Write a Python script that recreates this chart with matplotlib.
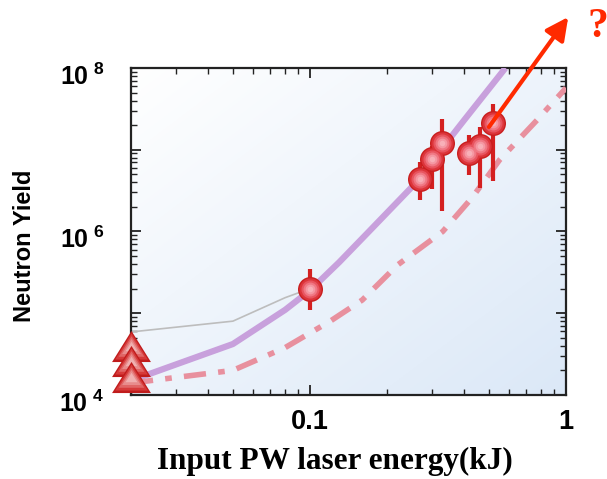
import numpy as np
import matplotlib.pyplot as plt
import matplotlib.transforms as mtransforms
from matplotlib.ticker import FixedLocator, FixedFormatter, LogLocator, NullFormatter

# simulation curves
model_x = [0.02, 0.05, 0.08, 0.1, 0.13, 0.17, 0.25, 0.4, 0.58]
model_y = [1.5e4, 4.2e4, 1.1e5, 1.9e5, 4.2e5, 1.0e6, 3.5e6, 2.3e7, 1.0e8]

low_x = [0.02, 0.05, 0.08, 0.12, 0.16, 0.22, 0.33, 0.43, 0.55, 0.77, 1.0]
low_y = [1.4e4, 2.0e4, 3.8e4, 8.0e4, 1.45e5, 3.9e5, 1.0e6, 2.6e6, 7.5e6, 2.3e7, 5.7e7]

gray_x = [0.02, 0.05, 0.08, 0.1]
gray_y = [5.9e4, 8.0e4, 1.55e5, 2.0e5]

# measured yields with error bars
exp_x = [0.1, 0.269, 0.30, 0.328, 0.418, 0.461, 0.519]
exp_y = [2.0e5, 4.4e6, 7.7e6, 1.2e7, 9.1e6, 1.1e7, 2.15e7]
exp_lo = [1.1e5, 2.4e6, 3.3e6, 1.8e6, 4.9e6, 3.4e6, 4.1e6]
exp_hi = [3.5e5, 7.0e6, 1.1e7, 2.4e7, 1.5e7, 1.9e7, 3.6e7]

# upper limits at the lowest energy
lim_x = [0.02, 0.02, 0.02]
lim_y = [4.0e4, 2.6e4, 1.65e4]

ytick_vals = [1e4, 1e5, 1e6, 1e7, 1e8]
ytick_labels = [r'$\mathregular{10^{\ 4}}$', '', r'$\mathregular{10^{\ 6}}$', '',
                r'$\mathregular{10^{\ 8}}$']
xtick_vals = [0.1, 1]
xtick_labels = ['0.1', '1']

fig = plt.figure(figsize=(6.07, 4.79), dpi=100)
ax = fig.add_axes([0.2158, 0.1754, 0.7167, 0.6827])
ax.set_xscale('log')
ax.set_yscale('log')
ax.set_xlim(0.02, 1)
ax.set_ylim(1e4, 1e8)

# white (top left) -> light blue (bottom right) background
gx, gy = np.meshgrid(np.linspace(0, 1, 200), np.linspace(0, 1, 200))
t = (gx + gy) / 2
c0 = np.array([1.0, 1.0, 1.0])
c1 = np.array([0.86, 0.91, 0.97])
grad = c0 + (c1 - c0) * t[..., None]
ax.imshow(grad, extent=[0, 1, 0, 1], transform=ax.transAxes, origin='upper',
          aspect='auto', zorder=0)

ax.plot(gray_x, gray_y, color='#bdbdbd', lw=1.2, zorder=2)
ax.plot(model_x, model_y, color='#c8a0dc', lw=4.5, solid_capstyle='butt', zorder=3)
ax.plot(low_x, low_y, color='#e8909e', lw=4, linestyle=(0, (4, 2.2, 1.2, 2.2)),
        dash_capstyle='butt', zorder=3)

err = [np.array(exp_y) - np.array(exp_lo), np.array(exp_hi) - np.array(exp_y)]
ax.errorbar(exp_x, exp_y, yerr=err, fmt='none', ecolor='#d42020', elinewidth=3,
            capsize=0, zorder=4)

# shaded spheres drawn as stacked circles
shades = ['#c81e1e', '#dc343a', '#e85560', '#f07884', '#f598a3', '#f8b0b8']
sizes = [18, 16, 13, 10, 7, 4]
for c, s in zip(shades, sizes):
    ax.plot(exp_x, exp_y, 'o', color=c, markersize=s, markeredgewidth=0, zorder=5)

# flat triangles for the lower limits
tri = [(0, 0.8), (-1, -0.8), (1, -0.8)]
tri_shades = ['#c01c1c', '#d63a3a', '#e06666', '#e88c8c', '#f0b0b0']
tri_sizes = [28, 23.5, 18.5, 13.5, 8.5]
for i in range(len(lim_y)):
    for c, s in zip(tri_shades, tri_sizes):
        ax.plot(lim_x[i], lim_y[i], marker=tri, linestyle='none', color=c,
                markersize=s, markeredgewidth=0, zorder=6, clip_on=False)

ax.annotate('', xy=(1.02, 4.2e8), xytext=(0.50, 1.9e7),
            arrowprops=dict(arrowstyle='-|>', color='#ff2a00', lw=3,
                            mutation_scale=34, shrinkA=0, shrinkB=0),
            annotation_clip=False, zorder=7)
ax.text(1.073, 1.125, '?', transform=ax.transAxes, ha='center', va='center',
        fontsize=30, fontweight='bold', family='Liberation Serif', color='#ff2a00')

ax.yaxis.set_major_locator(FixedLocator(ytick_vals))
ax.yaxis.set_major_formatter(FixedFormatter(ytick_labels))
ax.yaxis.set_minor_locator(LogLocator(base=10, subs=np.arange(2, 10)))
ax.yaxis.set_minor_formatter(NullFormatter())
ax.xaxis.set_major_locator(FixedLocator(xtick_vals))
ax.xaxis.set_major_formatter(FixedFormatter(xtick_labels))
ax.xaxis.set_minor_locator(LogLocator(base=10, subs=np.arange(2, 10)))
ax.xaxis.set_minor_formatter(NullFormatter())

ax.tick_params(which='both', direction='in', top=True, right=True, color='#222222',
               labelcolor='black')
ax.tick_params(which='major', length=7, width=1.3)
ax.tick_params(which='minor', length=4, width=1.0)
ax.tick_params(axis='y', labelsize=18, pad=19)
ax.tick_params(axis='x', labelsize=19.5, pad=10)
for lab in ax.get_xticklabels() + ax.get_yticklabels():
    lab.set_fontweight('bold')
    lab.set_family('Liberation Sans')
# y tick labels sit a little below their ticks
shift = mtransforms.ScaledTranslation(0, -6 / 100, fig.dpi_scale_trans)
for lab in ax.get_yticklabels():
    lab.set_transform(lab.get_transform() + shift)
for sp in ax.spines.values():
    sp.set_linewidth(1.6)
    sp.set_color('#222222')

ax.set_xlabel('Input PW laser energy(kJ)', fontsize=22.5, fontweight='bold',
              family='Liberation Serif', labelpad=9)
ax.xaxis.label.set_x(0.469)
ax.set_ylabel('Neutron Yield', fontsize=17, fontweight='bold',
              family='Liberation Sans')
ax.yaxis.set_label_coords(-0.219, 0.457)

fig.savefig('out.png', dpi=100)
